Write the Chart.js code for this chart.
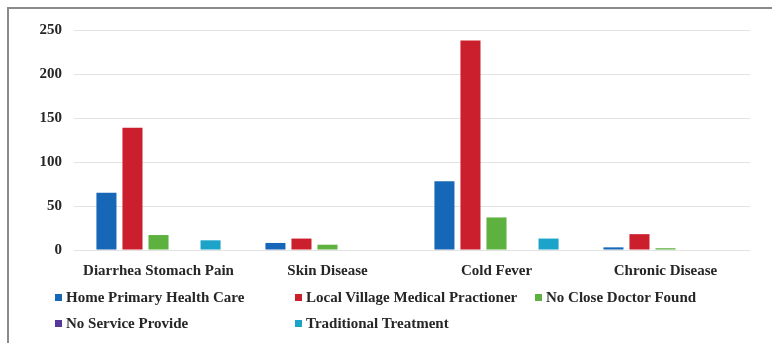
<!DOCTYPE html>
<html>
<head>
<meta charset="utf-8">
<script src="https://cdn.jsdelivr.net/npm/chart.js@4/dist/chart.umd.min.js"></script>
<style>
  html, body { margin: 0; padding: 0; background: #ffffff; }
  #wrap { position: relative; width: 772px; height: 343px; overflow: hidden; background: #ffffff; }
  #frame { position: absolute; left: 7px; top: 7px; width: 800px; height: 400px;
           border-top: 2px solid #8a8a8a; border-left: 2px solid #8a8a8a; box-sizing: border-box; }
  #chart { position: absolute; left: 0; top: 0; }
  #legend { position: absolute; left: 0; top: 0; width: 772px; height: 343px; pointer-events: none;
            font: bold 15px "Liberation Serif", "Times New Roman", serif; color: #262626; }
  .item { position: absolute; height: 18px; line-height: 18px; white-space: nowrap; }
  .item i { display: inline-block; width: 7px; height: 7px; margin-right: 4px; vertical-align: 1px; }
</style>
</head>
<body>
<div id="wrap">
  <div id="frame"></div>
  <canvas id="chart" width="772" height="343"></canvas>
  <div id="legend"></div>
</div>
<script>
// Health problems and where people sought treatment
const categories = ["Diarrhea Stomach Pain", "Skin Disease", "Cold Fever", "Chronic Disease"];

const seriesNames = [
  "Home Primary Health Care",
  "Local Village Medical Practioner",
  "No Close Doctor Found",
  "No Service Provide",
  "Traditional Treatment"
];
const seriesColors = ["#1667b7", "#cb1f2e", "#5cb13f", "#56389a", "#1ca3c9"];

const homePrimary   = [65, 8, 78, 3];
const localVillage  = [139, 13, 238, 18];
const noCloseDoctor = [17, 6, 37, 2];
const noService     = [0, 0, 0, 0];
const traditional   = [11, 0, 13, 0];
const seriesValues = [homePrimary, localVillage, noCloseDoctor, noService, traditional];

const yTicks = [0, 50, 100, 150, 200, 250];

const font = { family: '"Liberation Serif", "Times New Roman", serif', size: 15, weight: 'bold' };

const chart = new Chart(document.getElementById('chart'), {
  type: 'bar',
  data: {
    labels: categories,
    datasets: seriesNames.map((name, i) => ({
      label: name,
      data: seriesValues[i],
      backgroundColor: seriesColors[i],
      borderWidth: 0,
      categoryPercentage: 0.77,
      barPercentage: 0.77
    }))
  },
  options: {
    responsive: false,
    devicePixelRatio: 1,
    animation: false,
    layout: { padding: { left: 8, right: 22, top: 30, bottom: 52 } },
    plugins: { legend: { display: false }, tooltip: { enabled: false } },
    scales: {
      x: {
        grid: { display: false, drawTicks: false },
        border: { display: false },
        ticks: { font: font, color: '#262626', maxRotation: 0, autoSkip: false, padding: 12 },
        afterFit: s => { s.height = 41; }
      },
      y: {
        min: yTicks[0],
        max: yTicks[yTicks.length - 1],
        afterBuildTicks: s => { s.ticks = yTicks.map(v => ({ value: v })); },
        grid: { color: '#e2e2e2', lineWidth: 1, drawTicks: false },
        border: { display: false },
        ticks: { font: font, color: '#262626', padding: 12 },
        afterFit: s => { s.width = 66; }
      }
    }
  }
});

// Legend laid out in three columns, two rows
const legend = document.getElementById('legend');
const colX = [55, 295, 535];
const rowY = [288, 314];
seriesNames.forEach((name, i) => {
  const el = document.createElement('div');
  el.className = 'item';
  el.style.left = colX[i % 3] + 'px';
  el.style.top = rowY[Math.floor(i / 3)] + 'px';
  const sw = document.createElement('i');
  sw.style.background = seriesColors[i];
  el.appendChild(sw);
  el.appendChild(document.createTextNode(name));
  legend.appendChild(el);
});
</script>
</body>
</html>
